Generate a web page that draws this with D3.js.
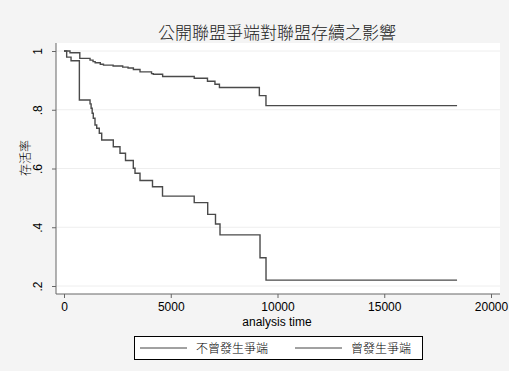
<!DOCTYPE html>
<html>
<head>
<meta charset="utf-8">
<script src="https://cdn.jsdelivr.net/npm/d3@7"></script>
<style>
  body { margin: 0; background: #f4f4f4; }
  text { font-family: "Liberation Sans", Arial, "Noto Sans CJK TC", sans-serif; fill: #000; }
  .cjk { font-family: "Noto Sans CJK TC", "Liberation Sans", sans-serif; }
</style>
</head>
<body>
<div id="chart"></div>
<script>
// survival estimates
var title = "公開聯盟爭端對聯盟存續之影響"
var seriesNames = ["不曾發生爭端", "曾發生爭端"]

// group that never had a dispute
var neverTime = [0, 280, 740, 1220, 1360, 1460, 1700, 1850, 2300, 2750, 3000, 3250, 3560, 4100, 4183, 4620, 6100, 6720, 7070, 7280, 9150, 9460, 18410]
var neverSurv = [1, 0.994, 0.975, 0.969, 0.964, 0.960, 0.955, 0.952, 0.949, 0.945, 0.942, 0.937, 0.929, 0.923, 0.921, 0.913, 0.907, 0.897, 0.887, 0.876, 0.848, 0.814, 0.814]

// group that had a dispute
var disputeTime = [0, 125, 330, 720, 1220, 1270, 1320, 1372, 1452, 1532, 1653, 1766, 2309, 2623, 2881, 3246, 3326, 3560, 4145, 4614, 6099, 6731, 7096, 7307, 9181, 9462, 18410]
var disputeSurv = [1, 0.979, 0.967, 0.833, 0.82, 0.805, 0.788, 0.771, 0.748, 0.737, 0.720, 0.697, 0.674, 0.652, 0.627, 0.601, 0.584, 0.559, 0.538, 0.506, 0.484, 0.444, 0.411, 0.374, 0.296, 0.220, 0.220]

var xTicks = [0, 5000, 10000, 15000, 20000]
var yTicks = [0.2, 0.4, 0.6, 0.8, 1]

var width = 509
var height = 371

var svg = d3.select("#chart")
  .append("svg")
  .attr("width", width)
  .attr("height", height)

svg.append("rect")
  .attr("width", width)
  .attr("height", height)
  .attr("fill", "#f4f4f4")

var x = d3.scaleLinear().domain([0, 20000]).range([64, 491])
var y = d3.scaleLinear().domain([0.2, 1]).range([286, 51])

// plot region
svg.append("rect")
  .attr("x", 56)
  .attr("y", 43)
  .attr("width", 500 - 56)
  .attr("height", 294 - 43)
  .attr("fill", "#fff")

// grid
svg.selectAll(".grid")
  .data(yTicks)
  .enter()
  .append("line")
  .attr("x1", 56)
  .attr("x2", 500)
  .attr("y1", function (d) { return y(d) })
  .attr("y2", function (d) { return y(d) })
  .attr("stroke", "#eeeeee")
  .attr("stroke-width", 1)

// x axis
var xAxis = d3.axisBottom(x)
  .tickValues(xTicks)
  .tickSize(4)
  .tickPadding(4)
  .tickFormat(d3.format("d"))

var gx = svg.append("g")
  .attr("transform", "translate(0,294)")
  .call(xAxis)
gx.select(".domain").remove()
gx.append("line")
  .attr("x1", 56).attr("x2", 500)
  .attr("stroke", "#666")
gx.selectAll(".tick line").attr("stroke", "#666")
gx.selectAll(".tick text")
  .attr("font-size", 12)
  .attr("fill", "#000")
  .style("font-family", "Liberation Sans, Arial, sans-serif")

// y axis
var yAxis = d3.axisLeft(y)
  .tickValues(yTicks)
  .tickSize(4)
  .tickFormat(function (d) { return d === 1 ? "1" : d3.format(".1f")(d).replace(/^0/, "") })

var gy = svg.append("g")
  .attr("transform", "translate(56,0)")
  .call(yAxis)
gy.select(".domain").remove()
gy.append("line")
  .attr("y1", 43).attr("y2", 294)
  .attr("stroke", "#666")
gy.selectAll(".tick line").attr("stroke", "#666")
gy.selectAll(".tick text")
  .attr("font-size", 12)
  .attr("fill", "#000")
  .attr("x", null)
  .attr("dy", null)
  .attr("text-anchor", "middle")
  .attr("transform", "translate(-14,0) rotate(-90)")
  .style("font-family", "Liberation Sans, Arial, sans-serif")

// survival step lines
var line = d3.line()
  .x(function (d) { return x(d[0]) })
  .y(function (d) { return y(d[1]) })
  .curve(d3.curveStepAfter)

var series = [
  d3.zip(neverTime, neverSurv),
  d3.zip(disputeTime, disputeSurv)
]

svg.selectAll(".km")
  .data(series)
  .enter()
  .append("path")
  .attr("d", line)
  .attr("fill", "none")
  .attr("stroke", "#4a4a4a")
  .attr("stroke-width", 1.4)

// titles
svg.append("text")
  .attr("class", "cjk")
  .attr("x", 277)
  .attr("y", 39)
  .attr("text-anchor", "middle")
  .attr("font-size", 17)
  .attr("font-weight", 300)
  .style("fill", "#222")
  .text(title)

svg.append("text")
  .attr("x", 277)
  .attr("y", 326)
  .attr("text-anchor", "middle")
  .attr("font-size", 12)
  .text("analysis time")

svg.append("text")
  .attr("class", "cjk")
  .attr("transform", "translate(30,158) rotate(-90)")
  .attr("text-anchor", "middle")
  .attr("font-size", 12)
  .attr("font-weight", 300)
  .text("存活率")

// legend
svg.append("rect")
  .attr("x", 134.5)
  .attr("y", 336.5)
  .attr("width", 288)
  .attr("height", 23)
  .attr("fill", "#fff")
  .attr("stroke", "#000")

var legendX = [140, 295]
var legend = svg.selectAll(".legend")
  .data(seriesNames)
  .enter()
  .append("g")
  .attr("transform", function (d, i) { return "translate(" + legendX[i] + ",348)" })

legend.append("line")
  .attr("x1", 0)
  .attr("x2", 47)
  .attr("stroke", "#444")
  .attr("stroke-width", 1)

legend.append("text")
  .attr("class", "cjk")
  .attr("x", 56)
  .attr("y", 4.5)
  .attr("font-size", 12)
  .attr("font-weight", 300)
  .text(function (d) { return d })
</script>
</body>
</html>
